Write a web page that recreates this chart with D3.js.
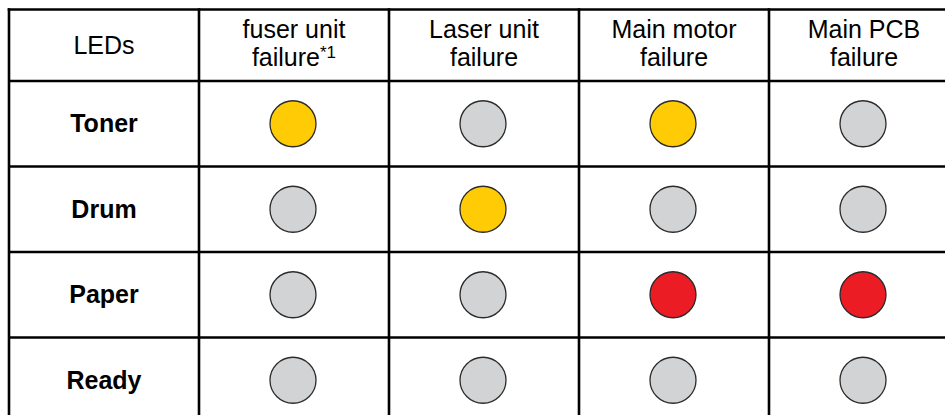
<!DOCTYPE html>
<html>
<head>
<meta charset="utf-8">
<script src="https://cdn.jsdelivr.net/npm/d3@7"></script>
<style>
  html, body { margin: 0; padding: 0; background: #fff; }
  svg { display: block; }
</style>
</head>
<body>
<svg id="chart" width="945" height="415"></svg>
<script>
// ---- data ----
const cornerLabel = "LEDs";
const columns = ["fuser unit\nfailure*1", "Laser unit\nfailure", "Main motor\nfailure", "Main PCB\nfailure"];
const rows = ["Toner", "Drum", "Paper", "Ready"];
// LED state per row (order of columns): "amber", "red", "off" grey
const toner = ["amber", "off", "amber", "off"];
const drum  = ["off", "amber", "off", "off"];
const paper = ["off", "off", "red", "red"];
const ready = ["off", "off", "off", "off"];
const states = [toner, drum, paper, ready];

const colorOf = { amber: "#FFCB05", red: "#EC1C24", off: "#D1D3D4" };

(function () {
const svg = d3.select("#chart");
const leftX = 9, topY = 9.5, colW = 190, headH = 71.5, rowH = 85.5;

const x = d3.scaleBand()
  .domain([cornerLabel, ...columns])
  .range([leftX, leftX + colW * (columns.length + 1)])
  .paddingInner(0).paddingOuter(0);

const y = d3.scaleBand()
  .domain(rows)
  .range([topY + headH, topY + headH + rowH * rows.length])
  .paddingInner(0).paddingOuter(0);

const font = "Arial, 'Liberation Sans', Helvetica, sans-serif";

// header texts
const headG = svg.append("g");
const headerCells = [cornerLabel, ...columns];
headerCells.forEach(label => {
  const lines = label.split("\n");
  const cx = x(label) + x.bandwidth() / 2;
  const lh = 28;
  const cy = topY + headH / 2;
  const t = headG.append("text")
    .attr("x", cx)
    .attr("text-anchor", "middle")
    .attr("font-family", font)
    .attr("font-size", 25)
    .attr("fill", "#000");
  lines.forEach((ln, i) => {
    const base = cy + 9 - ((lines.length - 1) * lh) / 2 + i * lh - (lines.length > 1 ? 2.5 : 0);
    const star = ln.indexOf("*");
    const ts = t.append("tspan").attr("x", cx).attr("y", base);
    if (star >= 0) {
      ts.append("tspan").text(ln.slice(0, star));
      ts.append("tspan").attr("font-size", 17).attr("dy", -8).text(ln.slice(star));
    } else {
      ts.text(ln);
    }
  });
});

// row labels
svg.append("g").selectAll("text")
  .data(rows)
  .join("text")
  .attr("x", x(cornerLabel) + x.bandwidth() / 2)
  .attr("y", d => y(d) + y.bandwidth() / 2 + 8.5)
  .attr("text-anchor", "middle")
  .attr("font-family", font)
  .attr("font-weight", "bold")
  .attr("font-size", 25)
  .attr("fill", "#000")
  .text(d => d);

// LED circles
const cells = [];
rows.forEach((r, ri) => columns.forEach((c, ci) => cells.push({ r, c, s: states[ri][ci] })));
svg.append("g").selectAll("circle")
  .data(cells)
  .join("circle")
  .attr("cx", d => x(d.c) + x.bandwidth() / 2 - 1)
  .attr("cy", d => y(d.r) + y.bandwidth() / 2)
  .attr("r", 23)
  .attr("fill", d => colorOf[d.s])
  .attr("stroke", "#2b2b2b")
  .attr("stroke-width", 1.3);

// grid lines
const grid = svg.append("g").attr("stroke", "#000").attr("stroke-width", 2.6);
const bottomY = topY + headH + rowH * rows.length;
const rightEdge = x.range()[1];
x.domain().forEach(d => {
  grid.append("line").attr("x1", x(d)).attr("x2", x(d)).attr("y1", topY - 1.3).attr("y2", bottomY);
});
grid.append("line").attr("x1", leftX - 1.3).attr("x2", rightEdge).attr("y1", topY).attr("y2", topY);
rows.forEach(r => {
  grid.append("line").attr("x1", leftX).attr("x2", rightEdge).attr("y1", y(r)).attr("y2", y(r));
});
})();
</script>
</body>
</html>
